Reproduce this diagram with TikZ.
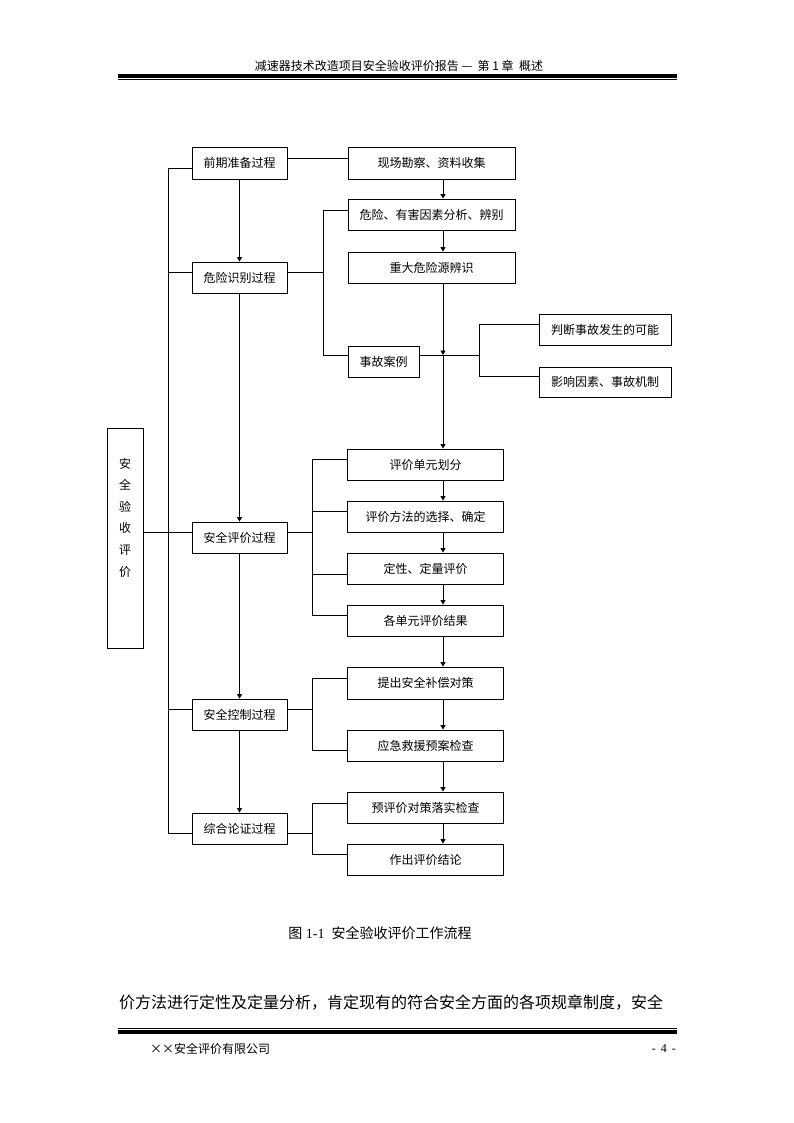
\documentclass[tikz,border=0pt]{standalone}
\usepackage{fontspec}
\setmainfont{Liberation Serif}
\newfontfamily\cjk{Noto Sans CJK SC}
\usetikzlibrary{arrows.meta}
\begin{document}
\begin{tikzpicture}[x=1pt,y=-1pt,
  box/.style={draw,line width=0.9pt,inner sep=0pt,font=\cjk\fontsize{12}{14}\selectfont,minimum height=31},
  ln/.style={line width=0.9pt},
  arr/.style={line width=0.9pt,-{Triangle[length=4.5pt,width=5pt]}}]
\useasboundingbox (0,0) rectangle (794,1123);
% header
\node (hdr) at (399,66) {\cjk\fontsize{12}{14}\selectfont 减速器技术改造项目安全验收评价报告\ — \ 第\ 1\ 章\ \ 概述};
\coordinate (hl1) at (118,75.8); \coordinate (hr1) at (677,75.8);
\draw[line width=3.6pt] (hl1) -- (hr1);
\coordinate (hl2) at (118,79.5); \coordinate (hr2) at (677,79.5);
\draw[line width=0.9pt] (hl2) -- (hr2);
% left column
\node[box,minimum width=95,minimum height=32] (pre) at (239.5,163) {前期准备过程};
\node[box,minimum width=95] (haz) at (239.5,277.5) {危险识别过程};
\node[box,minimum width=95] (eval) at (239.5,537.5) {安全评价过程};
\node[box,minimum width=95] (ctrl) at (239.5,714.5) {安全控制过程};
\node[box,minimum width=95] (comp) at (239.5,828.5) {综合论证过程};
\node[box,minimum width=36,minimum height=220] (lb) at (125,538) {};
\node[font=\cjk\fontsize{12}{21.6}\selectfont,align=center,inner sep=0pt] (lbt) at (125,517.5) {安\\全\\验\\收\\评\\价};
% right upper
\node[box,minimum width=167,minimum height=32] (site) at (431.5,163) {现场勘察、资料收集};
\node[box,minimum width=167] (fac) at (431.5,214.5) {危险、有害因素分析、辨别};
\node[box,minimum width=167] (major) at (431.5,267.5) {重大危险源辨识};
\node[box,minimum width=71] (acc) at (383.5,361.5) {事故案例};
\node[box,minimum width=132] (judge) at (605,329.5) {判断事故发生的可能};
\node[box,minimum width=132,minimum height=30] (infl) at (605,382) {影响因素、事故机制};
% right lower
\node[box,minimum width=156] (unit) at (425.5,464.5) {评价单元划分};
\node[box,minimum width=156] (meth) at (425.5,516.5) {评价方法的选择、确定};
\node[box,minimum width=156] (qual) at (425.5,568.5) {定性、定量评价};
\node[box,minimum width=156] (res) at (425.5,620.5) {各单元评价结果};
\node[box,minimum width=156,minimum height=32] (meas) at (425.5,683) {提出安全补偿对策};
\node[box,minimum width=156] (emer) at (425.5,745.5) {应急救援预案检查};
\node[box,minimum width=156] (impl) at (425.5,807.5) {预评价对策落实检查};
\node[box,minimum width=156] (concl) at (425.5,859.5) {作出评价结论};
% left spine
\coordinate (sp1) at (168,168);
\coordinate (sp2) at (168,272);
\coordinate (sp3) at (168,532);
\coordinate (sp4) at (168,709);
\coordinate (sp5) at (168,833);
\draw[ln] (sp1) -- (sp5);
\draw[ln] (sp1) -- (pre.west |- sp1);
\draw[ln] (sp2) -- (haz.west |- sp2);
\draw[ln] (lb.east |- sp3) -- (eval.west |- sp3);
\draw[ln] (sp4) -- (ctrl.west |- sp4);
\draw[ln] (sp5) -- (comp.west |- sp5);
% left column arrows
\draw[arr] (pre.south) -- (haz.north);
\draw[arr] (haz.south) -- (eval.north);
\draw[arr] (eval.south) -- (ctrl.north);
\draw[arr] (ctrl.south) -- (comp.north);
% pre to site
\coordinate (c1) at (287,158);
\draw[ln] (c1) -- (site.west |- c1);
% haz bracket
\coordinate (b1t) at (323,210); \coordinate (b1m) at (323,272); \coordinate (b1b) at (323,355);
\draw[ln] (haz.east |- b1m) -- (b1m);
\draw[ln] (fac.west |- b1t) -- (b1t) -- (b1b) -- (acc.west |- b1b);
% main vertical x=443
\coordinate (v0) at (443,179);
\draw[arr] (site.south -| v0) -- (fac.north -| v0);
\draw[arr] (fac.south -| v0) -- (major.north -| v0);
\coordinate (vx) at (443,355);
\draw[arr] (major.south -| v0) -- (vx);
\draw[arr] (vx) -- (unit.north -| v0);
\draw[arr] (unit.south -| v0) -- (meth.north -| v0);
\draw[arr] (meth.south -| v0) -- (qual.north -| v0);
\draw[arr] (qual.south -| v0) -- (res.north -| v0);
\draw[arr] (res.south -| v0) -- (meas.north -| v0);
\draw[arr] (meas.south -| v0) -- (emer.north -| v0);
\draw[arr] (emer.south -| v0) -- (impl.north -| v0);
\draw[arr] (impl.south -| v0) -- (concl.north -| v0);
% acc right bracket
\coordinate (b2t) at (479,324); \coordinate (b2m) at (479,355); \coordinate (b2b) at (479,376);
\draw[ln] (acc.east |- b2m) -- (b2m);
\draw[ln] (judge.west |- b2t) -- (b2t) -- (b2b) -- (infl.west |- b2b);
% eval bracket
\coordinate (b3t) at (312,459); \coordinate (b3a) at (312,511); \coordinate (b3m) at (312,532);
\coordinate (b3c) at (312,574); \coordinate (b3b) at (312,615);
\draw[ln] (eval.east |- b3m) -- (b3m);
\draw[ln] (unit.west |- b3t) -- (b3t) -- (b3b) -- (res.west |- b3b);
\draw[ln] (b3a) -- (meth.west |- b3a);
\draw[ln] (b3c) -- (qual.west |- b3c);
% ctrl bracket
\coordinate (b4t) at (312,678); \coordinate (b4m) at (312,709); \coordinate (b4b) at (312,750);
\draw[ln] (ctrl.east |- b4m) -- (b4m);
\draw[ln] (meas.west |- b4t) -- (b4t) -- (b4b) -- (emer.west |- b4b);
% comp bracket
\coordinate (b5t) at (312,803); \coordinate (b5m) at (312,833); \coordinate (b5b) at (312,854);
\draw[ln] (comp.east |- b5m) -- (b5m);
\draw[ln] (impl.west |- b5t) -- (b5t) -- (b5b) -- (concl.west |- b5b);
% caption and body
\node (cap) at (380,933) {\fontsize{14}{16}\selectfont{\cjk 图}\ 1-1\ \ {\cjk 安全验收评价工作流程}};
\node[anchor=west,inner sep=0pt] (body) at (119,1003) {\cjk\fontsize{16}{18}\selectfont 价方法进行定性及定量分析，肯定现有的符合安全方面的各项规章制度，安全};
% footer
\coordinate (fl1) at (118,1028); \coordinate (fr1) at (677,1028);
\draw[line width=0.9pt] (fl1) -- (fr1);
\coordinate (fl2) at (118,1032); \coordinate (fr2) at (677,1032);
\draw[line width=3.6pt] (fl2) -- (fr2);
\node[anchor=west,inner sep=0pt] (ftl) at (150,1049) {\cjk\fontsize{12}{14}\selectfont ××安全评价有限公司};
\node[anchor=east,inner sep=0pt] (ftr) at (676,1049) {\fontsize{12}{14}\selectfont -\ \,4\ \,-};
\end{tikzpicture}
\end{document}
